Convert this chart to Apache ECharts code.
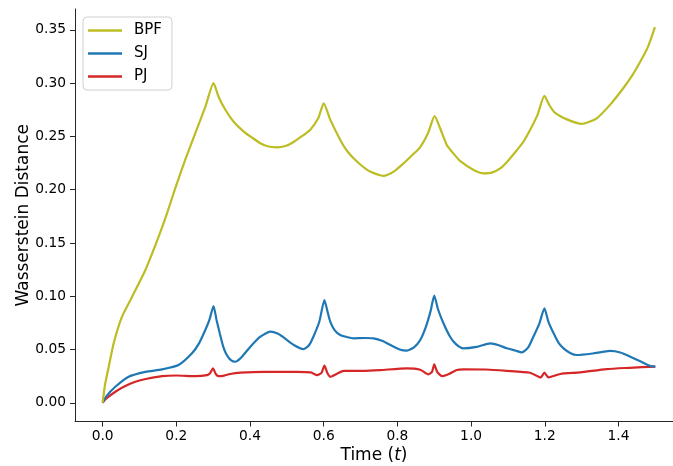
<!DOCTYPE html>
<html>
<head>
<meta charset="utf-8">
<script src="https://cdn.jsdelivr.net/npm/echarts@6/dist/echarts.min.js"></script>
<style>html,body{margin:0;padding:0;background:#fff;}#c{width:673px;height:466px;}</style>
</head>
<body>
<div id="c"></div>
<script>
const seriesNames = ['BPF', 'SJ', 'PJ'];
const xTicks = [0, 0.2, 0.4, 0.6, 0.8, 1.0, 1.2, 1.4];
const yTicks = [0, 0.05, 0.10, 0.15, 0.20, 0.25, 0.30, 0.35];

const bpfT = [0, 0.006, 0.0147, 0.030, 0.0526, 0.080, 0.116, 0.152, 0.175, 0.197, 0.224, 0.2515, 0.279, 0.301, 0.315, 0.333, 0.355, 0.383, 0.405, 0.428, 0.45, 0.473, 0.496, 0.515, 0.536, 0.563, 0.585, 0.600, 0.618, 0.645, 0.662, 0.681, 0.705, 0.726, 0.762, 0.79, 0.817, 0.842, 0.862, 0.883, 0.901, 0.916, 0.934, 0.952, 0.970, 1.007, 1.034, 1.056, 1.079, 1.1, 1.124, 1.142, 1.160, 1.18, 1.199, 1.213, 1.228, 1.260, 1.30, 1.341, 1.377, 1.413, 1.437, 1.459, 1.48, 1.499];
const bpfV = [0, 0.016, 0.0307, 0.0558, 0.0808, 0.0995, 0.1246, 0.156, 0.178, 0.2013, 0.228, 0.253, 0.278, 0.300, 0.287, 0.275, 0.264, 0.2545, 0.249, 0.2436, 0.2405, 0.2398, 0.241, 0.244, 0.249, 0.256, 0.267, 0.281, 0.2655, 0.2467, 0.237, 0.2295, 0.222, 0.217, 0.213, 0.217, 0.2248, 0.233, 0.240, 0.253, 0.269, 0.2577, 0.242, 0.234, 0.227, 0.2185, 0.2154, 0.216, 0.220, 0.227, 0.237, 0.245, 0.256, 0.270, 0.288, 0.279, 0.272, 0.266, 0.2617, 0.267, 0.2796, 0.2952, 0.307, 0.320, 0.334, 0.3525];

const sjT = [0, 0.01, 0.0345, 0.0705, 0.116, 0.161, 0.206, 0.2425, 0.262, 0.2786, 0.290, 0.301, 0.309, 0.318, 0.327, 0.337, 0.348, 0.360, 0.374, 0.401, 0.428, 0.455, 0.475, 0.491, 0.52, 0.545, 0.560, 0.572, 0.588, 0.602, 0.610, 0.618, 0.630, 0.645, 0.665, 0.681, 0.710, 0.735, 0.760, 0.781, 0.806, 0.826, 0.845, 0.862, 0.878, 0.890, 0.900, 0.910, 0.925, 0.943, 0.959, 0.979, 1.015, 1.052, 1.075, 1.097, 1.120, 1.138, 1.155, 1.169, 1.185, 1.199, 1.210, 1.224, 1.238, 1.251, 1.270, 1.287, 1.33, 1.377, 1.405, 1.432, 1.459, 1.486, 1.5];
const sjV = [0, 0.006, 0.015, 0.0244, 0.029, 0.0313, 0.0354, 0.0464, 0.056, 0.0683, 0.078, 0.0908, 0.078, 0.065, 0.053, 0.0448, 0.040, 0.0385, 0.0417, 0.0526, 0.062, 0.0667, 0.065, 0.0614, 0.054, 0.0504, 0.054, 0.062, 0.076, 0.0964, 0.086, 0.076, 0.068, 0.0636, 0.0615, 0.0605, 0.0608, 0.0605, 0.058, 0.0542, 0.050, 0.0489, 0.052, 0.0589, 0.072, 0.086, 0.1005, 0.088, 0.0746, 0.062, 0.055, 0.0511, 0.0525, 0.0558, 0.054, 0.0511, 0.049, 0.0473, 0.052, 0.062, 0.074, 0.0886, 0.076, 0.0652, 0.056, 0.0511, 0.0465, 0.0448, 0.0462, 0.0486, 0.0472, 0.0432, 0.039, 0.0345, 0.034];

const pjT = [0, 0.01, 0.0345, 0.06, 0.0887, 0.12, 0.161, 0.20, 0.2515, 0.283, 0.292, 0.2995, 0.307, 0.315, 0.33, 0.346, 0.374, 0.437, 0.527, 0.565, 0.582, 0.594, 0.602, 0.610, 0.618, 0.635, 0.654, 0.708, 0.753, 0.826, 0.862, 0.884, 0.894, 0.900, 0.908, 0.921, 0.940, 0.961, 0.979, 1.04, 1.097, 1.16, 1.189, 1.199, 1.21, 1.242, 1.296, 1.368, 1.43, 1.5];
const pjV = [0, 0.004, 0.0103, 0.0155, 0.0197, 0.0225, 0.025, 0.0256, 0.025, 0.026, 0.028, 0.0323, 0.027, 0.025, 0.0255, 0.027, 0.0282, 0.029, 0.029, 0.0285, 0.026, 0.028, 0.0348, 0.028, 0.0244, 0.027, 0.030, 0.030, 0.0307, 0.0323, 0.031, 0.0267, 0.029, 0.036, 0.029, 0.025, 0.027, 0.0307, 0.0313, 0.0312, 0.030, 0.0282, 0.0238, 0.0282, 0.0238, 0.027, 0.0285, 0.0316, 0.0328, 0.034];

const colors = ['#bcbd22', '#1f77b4', '#d62728'];
const zip = (t, v) => t.map((x, i) => [x, v[i]]);
const dataSets = [zip(bpfT, bpfV), zip(sjT, sjV), zip(pjT, pjV)];

const chart = echarts.init(document.getElementById('c'), null, {renderer: 'canvas'});
const axisCol = '#262626';
const font = 'DejaVu Sans';

chart.setOption({
  animation: false,
  backgroundColor: '#fff',
  grid: {left: 75, right: 0, top: 9, bottom: 44.5, containLabel: false, outerBoundsMode: 'none'},
  legend: {
    orient: 'vertical', left: 83, top: 17,
    data: seriesNames,
    icon: 'rect', itemWidth: 34, itemHeight: 2.5, itemGap: 8,
    padding: [6, 10, 6, 5],
    borderColor: '#d0d0d0', borderWidth: 1, borderRadius: 4,
    backgroundColor: 'rgba(255,255,255,0.8)',
    textStyle: {fontFamily: font, fontSize: 15, color: '#000', lineHeight: 15, padding: [0, 0, 0, 7]}
  },
  xAxis: {
    type: 'value', min: -0.075, max: 1.548,
    name: 'Time ({i|t})', nameLocation: 'middle', nameGap: 26, nameMoveOverlap: false,
    nameTextStyle: {fontFamily: font, fontSize: 17, color: '#000', rich: {i: {fontFamily: font, fontStyle: 'italic', fontSize: 17, color: '#000'}}},
    axisLine: {show: true, onZero: false, lineStyle: {color: axisCol, width: 1}},
    axisTick: {show: true, length: 5, lineStyle: {color: axisCol}, customValues: xTicks},
    axisLabel: {fontFamily: font, fontSize: 13.8, color: '#000', margin: 8, customValues: xTicks, formatter: v => v.toFixed(1)},
    splitLine: {show: false}
  },
  yAxis: {
    type: 'value', min: -0.0176, max: 0.3696,
    name: 'Wasserstein Distance', nameLocation: 'middle', nameGap: 43, nameRotate: 90, nameMoveOverlap: false,
    nameTextStyle: {fontFamily: font, fontSize: 17, color: '#000'},
    axisLine: {show: true, onZero: false, lineStyle: {color: axisCol, width: 1}},
    axisTick: {show: true, length: 5, lineStyle: {color: axisCol}, customValues: yTicks},
    axisLabel: {fontFamily: font, fontSize: 13.8, color: '#000', margin: 9, customValues: yTicks, formatter: v => v.toFixed(2)},
    splitLine: {show: false}
  },
  series: seriesNames.map((n, i) => ({
    name: n, type: 'line', data: dataSets[i], showSymbol: false, smooth: 0.2,
    lineStyle: {color: colors[i], width: 2.2}, itemStyle: {color: colors[i]}, z: 3 - i, clip: true
  }))
});
</script>
</body>
</html>
